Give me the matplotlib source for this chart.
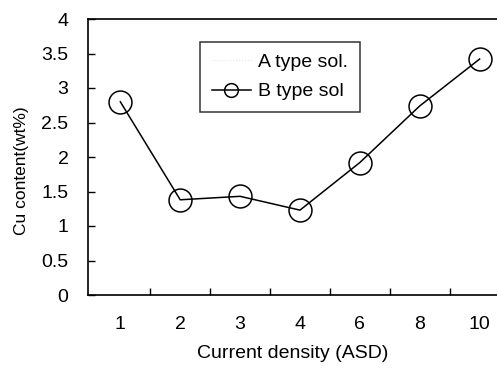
import matplotlib
matplotlib.use("Agg")
import matplotlib.pyplot as plt
import numpy as np

# data
densities = ["1", "2", "3", "4", "6", "8", "10"]
cu_b_type = [2.80, 1.38, 1.43, 1.23, 1.92, 2.74, 3.42]
y_ticks = [0, 0.5, 1, 1.5, 2, 2.5, 3, 3.5, 4]
y_tick_labels = ["0", "0.5", "1", "1.5", "2", "2.5", "3", "3.5", "4"]

plt.rcParams["font.family"] = ["Liberation Sans", "DejaVu Sans"]

fig = plt.figure(figsize=(4.97, 3.76), dpi=100)
ax = fig.add_axes([88 / 497, 1 - 295 / 376, 1 - 88 / 497, (295 - 19) / 376])

x = np.arange(len(densities))

# A type series: only its legend entry is visible in the original
ax.plot([], [], color="#e4e4e4", lw=0.8, ls=":", label="A type sol.")
ax.plot(x, cu_b_type, color="black", lw=1.1, marker="o", markersize=16.5,
        markerfacecolor="none", markeredgecolor="black", markeredgewidth=1.1,
        label="B type sol")

ax.set_xlim(-0.54, 6.29)
ax.set_ylim(0, 4)

ax.set_xticks(x)
ax.set_xticklabels(densities, fontsize=14)
ax.set_xticks(x[:-1] + 0.5, minor=True)
ax.tick_params(axis="x", which="major", length=0, pad=15)
ax.tick_params(axis="x", which="minor", direction="in", length=5, width=1)

ax.set_yticks(y_ticks)
ax.set_yticklabels(y_tick_labels, fontsize=14)
ax.tick_params(axis="y", direction="in", length=5, width=1, pad=14)

for side in ["left", "top", "bottom"]:
    ax.spines[side].set_linewidth(1.2)
ax.spines["right"].set_visible(False)

ax.set_xlabel("Current density (ASD)", fontsize=14, labelpad=9)
ax.set_ylabel("Cu content(wt%)", fontsize=12.5)
ax.yaxis.set_label_coords(-0.145, 0.45)

leg = ax.legend(loc="upper left", bbox_to_anchor=(0.274, 0.917), fontsize=14,
                frameon=True, fancybox=False, edgecolor="black",
                handlelength=2.0, handletextpad=0.4, borderpad=0.6,
                labelspacing=0.6, markerscale=0.6, borderaxespad=0)
leg.get_frame().set_linewidth(1.1)

fig.savefig("out.png", dpi=100)
